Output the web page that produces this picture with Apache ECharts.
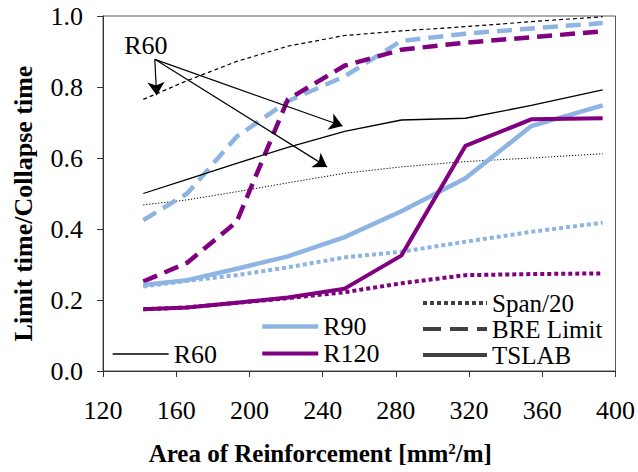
<!DOCTYPE html>
<html>
<head>
<meta charset="utf-8">
<script src="https://cdn.jsdelivr.net/npm/echarts@6/dist/echarts.min.js"></script>
<style>
  html, body { margin: 0; padding: 0; background: #fff; }
  #chart { width: 638px; height: 472px; }
</style>
</head>
<body>
<div id="chart"></div>
<script>
// Reinforcement areas (mm²/m) at which each slab was analysed
const areas = [142, 166, 193, 221, 252, 283, 318, 354, 393];

// Limit time / collapse time ratios — TSLAB analysis
const r60Tslab  = [0.500, 0.540, 0.585, 0.630, 0.675, 0.707, 0.712, 0.748, 0.792];
const r90Tslab  = [0.242, 0.256, 0.288, 0.323, 0.377, 0.450, 0.543, 0.690, 0.748];
const r120Tslab = [0.174, 0.179, 0.192, 0.207, 0.232, 0.325, 0.634, 0.709, 0.712];

// BRE limit
const r60Bre  = [0.765, 0.818, 0.872, 0.915, 0.945, 0.958, 0.970, 0.984, 0.998];
const r90Bre  = [0.425, 0.500, 0.660, 0.760, 0.830, 0.930, 0.950, 0.965, 0.980];
const r120Bre = [0.252, 0.305, 0.420, 0.765, 0.860, 0.905, 0.925, 0.940, 0.957];

// Span/20 deflection limit
const r60Span  = [0.468, 0.482, 0.505, 0.530, 0.557, 0.575, 0.590, 0.600, 0.612];
const r90Span  = [0.238, 0.254, 0.270, 0.292, 0.320, 0.336, 0.364, 0.392, 0.418];
const r120Span = [0.174, 0.179, 0.192, 0.205, 0.222, 0.247, 0.270, 0.273, 0.275];

// Axis ticks
const xTicks = { min: 120, max: 400, step: 40 };
const yTicks = { min: 0, max: 1, step: 0.2 };

// "R60" call-out: label position and arrow tips (data coordinates)
const r60Label = [143.4, 0.918];
const r60ArrowFrom = [148.3, 0.878];
const r60ArrowTips = [[149.3, 0.777], [250.9, 0.690], [242.4, 0.575]];

const FONT = "'Liberation Serif', 'Times New Roman', serif";
const C60 = '#000000', C90 = '#8DB4E2', C120 = '#800080', CKEY = '#404040';

const pairs = ys => areas.map((x, i) => [x, ys[i]]);

function line(name, ys, color, width, type, z) {
  return {
    name, type: 'line', data: pairs(ys), showSymbol: false, symbol: 'none',
    silent: true, z: z || 2,
    lineStyle: { color, width, type, cap: 'butt', join: 'miter' },
    itemStyle: { color },
    emphasis: { disabled: true }
  };
}

const chart = echarts.init(document.getElementById('chart'), null, { renderer: 'svg' });

const series = [
  line('R60 Span/20',  r60Span,  C60, 1, [1.2, 1.8]),
  line('R90 Span/20',  r90Span,  C90, 4, [4, 3]),
  line('R120 Span/20', r120Span, C120, 4, [4, 3]),
  line('R60 BRE',  r60Bre,  C60, 1.2, [4, 3]),
  line('R90 BRE',  r90Bre,  C90, 4.5, [15, 8]),
  line('R120 BRE', r120Bre, C120, 4.5, [15, 8]),
  line('R90',  r90Tslab,  C90, 4.5, 'solid'),
  line('R120', r120Tslab, C120, 4, 'solid', 3),
  line('R60',  r60Tslab,  C60, 1.3, 'solid'),
  // line-style key entries
  line('Span/20',   [], CKEY, 4, [4, 3]),
  line('BRE Limit', [], CKEY, 4, [18, 9]),
  line('TSLAB',     [], CKEY, 4, 'solid')
];

// call-out arrows and label attached to the R60 TSLAB line
series[8].markLine = {
  silent: true, animation: false,
  symbol: ['none', 'arrow'], symbolSize: 13,
  label: { show: false },
  itemStyle: { color: '#000', opacity: 1 },
  lineStyle: { color: '#000', width: 1.2, type: 'solid', opacity: 1 },
  emphasis: { disabled: true },
  data: r60ArrowTips.map(t => [{ coord: r60ArrowFrom }, { coord: t }])
};
series[8].markPoint = {
  silent: true, animation: false,
  symbol: 'circle', symbolSize: 0,
  label: { show: true, position: 'inside', formatter: 'R60',
           fontFamily: FONT, fontSize: 26, color: '#000' },
  data: [{ coord: r60Label }]
};

const legendText = { fontFamily: FONT, fontSize: 26, color: '#000' };
const hideSymbol = { color: 'transparent', borderWidth: 0, opacity: 0 };
const keyLine = { width: 'inherit' };

chart.setOption({
  animation: false,
  backgroundColor: '#fff',
  grid: { left: 103, right: 21, top: 16, bottom: 101, show: true,
          borderColor: '#595959', borderWidth: 1 },
  xAxis: {
    type: 'value', min: xTicks.min, max: xTicks.max, interval: xTicks.step,
    name: 'Area of Reinforcement [mm{sup|2}/m]',
    nameLocation: 'middle', nameGap: 70,
    nameTextStyle: { fontFamily: FONT, fontWeight: 'bold', fontSize: 25, color: '#000',
                     padding: [0, 78, 0, 0],
                     rich: { sup: { fontFamily: FONT, fontWeight: 'bold', fontSize: 15,
                                    verticalAlign: 'top', color: '#000' } } },
    axisLine: { lineStyle: { color: '#333', width: 1 } },
    axisTick: { length: 6, lineStyle: { color: '#333' } },
    axisLabel: { fontFamily: FONT, fontSize: 26, color: '#000', margin: 26 },
    splitLine: { show: false }
  },
  yAxis: {
    type: 'value', min: yTicks.min, max: yTicks.max, interval: yTicks.step,
    name: 'Limit time/Collapse time',
    nameLocation: 'middle', nameRotate: 90, nameGap: 67,
    nameTextStyle: { fontFamily: FONT, fontWeight: 'bold', fontSize: 26, color: '#000',
                     padding: [0, 20, 0, 0] },
    axisLine: { show: true, lineStyle: { color: '#333', width: 1 } },
    axisTick: { show: true, length: 6, lineStyle: { color: '#333' } },
    axisLabel: { fontFamily: FONT, fontSize: 26, color: '#000', margin: 20,
                 formatter: v => v.toFixed(1) },
    splitLine: { show: false }
  },
  legend: [
    { data: ['R60'], left: 107, top: 336, orient: 'vertical',
      itemWidth: 56, itemHeight: 14, itemGap: 0, textStyle: legendText,
      itemStyle: hideSymbol, lineStyle: keyLine, selectedMode: false },
    { data: ['R90', 'R120'], left: 255, top: 308, orient: 'vertical',
      itemWidth: 56, itemHeight: 14, itemGap: 0,
      textStyle: Object.assign({ lineHeight: 27 }, legendText),
      itemStyle: hideSymbol, lineStyle: keyLine, selectedMode: false },
    { data: ['Span/20', 'BRE Limit', 'TSLAB'], left: 416, top: 285, orient: 'vertical',
      itemWidth: 64, itemHeight: 14, itemGap: 0,
      textStyle: Object.assign({}, legendText, { fontSize: 25, lineHeight: 26 }),
      itemStyle: hideSymbol, lineStyle: keyLine, selectedMode: false }
  ],
  series
});
</script>
</body>
</html>
